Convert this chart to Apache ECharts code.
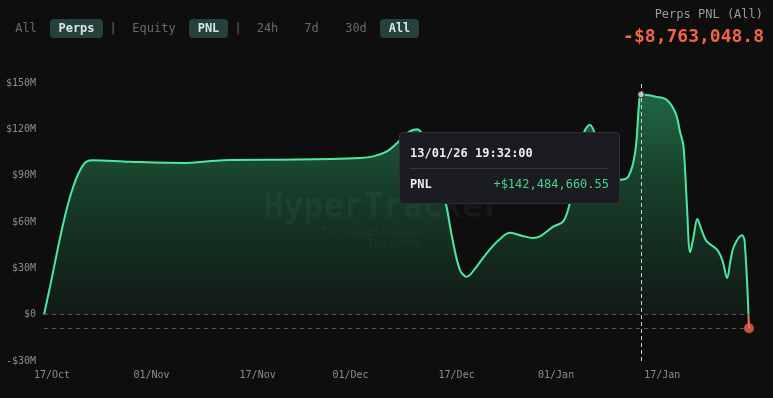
<!DOCTYPE html>
<html>
<head>
<meta charset="utf-8">
<script src="https://cdn.jsdelivr.net/npm/echarts@6/dist/echarts.min.js"></script>
<style>
html,body{margin:0;padding:0;background:#0e0e0e;}
#chart{width:773px;height:398px;}
</style>
</head>
<body>
<div id="chart"></div>
<script>
// ---- data (PNL in millions of USD, UTC timestamps) ----
const dates = [
  '2025-10-15 19:00','2025-10-16 17:00','2025-10-18 17:00','2025-10-20 05:00','2025-10-21 17:00',
  '2025-10-23 00:00','2025-10-28 18:00','2025-11-06 08:00','2025-11-11 19:00','2025-11-22 22:00',
  '2025-12-02 11:00','2025-12-04 10:00','2025-12-06 12:00','2025-12-08 00:00','2025-12-09 17:00',
  '2025-12-11 01:00','2025-12-12 10:00','2025-12-13 19:00','2025-12-15 07:00','2025-12-16 07:00',
  '2025-12-17 12:00','2025-12-18 13:00','2025-12-20 01:00','2025-12-21 14:00','2025-12-23 07:00',
  '2025-12-25 02:00','2025-12-26 22:00','2025-12-28 12:00','2025-12-29 14:00','2025-12-31 14:00',
  '2026-01-02 02:00','2026-01-03 02:00','2026-01-04 07:00','2026-01-05 05:00','2026-01-06 02:00',
  '2026-01-07 00:00','2026-01-08 02:00','2026-01-09 05:00','2026-01-10 17:00','2026-01-11 22:00',
  '2026-01-12 22:00','2026-01-13 12:00','2026-01-13 19:32','2026-01-16 05:00','2026-01-17 17:00',
  '2026-01-19 00:00','2026-01-19 17:00','2026-01-20 05:00','2026-01-20 17:00','2026-01-21 05:00',
  '2026-01-21 17:00','2026-01-22 07:00','2026-01-22 22:00','2026-01-23 17:00','2026-01-25 07:00',
  '2026-01-26 02:00','2026-01-26 19:00','2026-01-27 07:00','2026-01-27 19:00','2026-01-29 00:00',
  '2026-01-29 10:00','2026-01-30 02:00'
];
const pnlM = [
  0, 18.3, 59.4, 83, 97,
  100, 99, 98.2, 100, 100.4,
  101.5, 102.5, 105.8, 111, 118,
  120, 112, 92, 73.4, 50.7,
  29, 24.6, 31.3, 40, 48,
  53, 51, 49.7, 50.7, 57,
  60.4, 72.5, 100, 118, 123,
  115, 95, 88, 87.4, 89.6,
  105, 136, 142.48466055, 141, 139,
  130.6, 118, 109, 72, 40.4,
  50, 62, 55, 47.5, 42,
  35, 23.8, 35, 44, 51.4,
  48, -8.7630488
];
const xTickDates = ['2025-10-17','2025-11-01','2025-11-17','2025-12-01','2025-12-17','2026-01-01','2026-01-17'];
const yMinM = -30, yMaxM = 150, yStepM = 30;
const tooltipDate = '2026-01-13 19:32';
const headerTabs = ['All','Perps','|','Equity','PNL','|','24h','7d','30d','All'];
const headerActive = [false,true,false,false,true,false,false,false,false,true];
const headerTitle = 'Perps PNL (All)';
const headerValue = '-$8,763,048.8';
const watermark = ['HyperTracker','The Hyperliquid','Insights'];

// ---- helpers ----
const MON = ['Jan','Feb','Mar','Apr','May','Jun','Jul','Aug','Sep','Oct','Nov','Dec'];
function ts(s){
  const parts = s.split(' ');
  const d = parts[0].split('-').map(Number);
  const t = (parts[1] || '00:00').split(':').map(Number);
  return Date.UTC(d[0], d[1]-1, d[2], t[0], t[1]);
}
const pad = n => String(n).padStart(2,'0');
const seriesData = dates.map((d,i) => [ts(d), pnlM[i]*1e6]);
const lastPt = seriesData[seriesData.length-1];
const tipIndex = dates.indexOf(tooltipDate);
const MONO = '"DejaVu Sans Mono", "Liberation Mono", monospace';
const GREEN = '#46d390', RED = '#f0654a';
const H = 398;

function fmtMoney(v){
  const s = Math.abs(v).toLocaleString('en-US',{minimumFractionDigits:2, maximumFractionDigits:2});
  return (v < 0 ? '-' : '+') + '$' + s;
}

// header graphics
const tabX = [26, 76.5, 113, 154, 208.5, 238, 267.5, 311.5, 356, 399.5];
const tabW = [0, 53, 0, 0, 39, 0, 0, 0, 0, 39];
const graphics = [];
headerTabs.forEach((t,i) => {
  if (headerActive[i]) {
    graphics.push({type:'rect', shape:{x:tabX[i]-tabW[i]/2, y:19, width:tabW[i], height:19, r:4},
      style:{fill:'#26403c'}, silent:true});
  }
  graphics.push({type:'text', x:tabX[i], y:29, style:{text:t, align:'center', verticalAlign:'middle',
    font:(headerActive[i]?'bold ':'') + '12px ' + MONO, fill: headerActive[i] ? '#dde5e2' : '#696969'}, silent:true});
});
graphics.push({type:'text', x:763, y:15, style:{text:headerTitle, align:'right', verticalAlign:'middle',
  font:'12px ' + MONO, fill:'#9a9a9a'}});
graphics.push({type:'text', x:764, y:37, style:{text:headerValue, align:'right', verticalAlign:'middle',
  font:'bold 18px ' + MONO, fill:RED}});
// watermark
graphics.push({type:'text', x:383, y:208, z:0, style:{text:watermark[0], align:'center', verticalAlign:'middle',
  font:'bold 33px ' + MONO, fill:'rgba(130,220,170,0.06)'}, silent:true});
graphics.push({type:'text', x:420, y:232, z:0, style:{text:watermark[1], align:'right', verticalAlign:'middle',
  font:'11px ' + MONO, fill:'rgba(130,220,170,0.06)'}, silent:true});
graphics.push({type:'text', x:420, y:244, z:0, style:{text:watermark[2], align:'right', verticalAlign:'middle',
  font:'11px ' + MONO, fill:'rgba(130,220,170,0.06)'}, silent:true});

const chart = echarts.init(document.getElementById('chart'), null, {renderer:'canvas'});
chart.setOption({
  backgroundColor:'#0e0e0e',
  animation:false,
  graphic: graphics,
  grid:{left:44, right:24, top:83, bottom:37},
  xAxis:{
    type:'value',
    min: seriesData[0][0],
    max: lastPt[0],
    axisLine:{show:false}, axisTick:{show:false}, splitLine:{show:false},
    axisLabel:{
      customValues: xTickDates.map(d => ts(d)),
      hideOverlap:false,
      color:'#8c8c8c', fontFamily:MONO, fontSize:10, margin:9,
      formatter: v => { const d = new Date(v); return pad(d.getUTCDate()) + '/' + MON[d.getUTCMonth()]; }
    }
  },
  yAxis:{
    type:'value',
    min: yMinM*1e6, max: yMaxM*1e6, interval: yStepM*1e6,
    axisLine:{show:false}, axisTick:{show:false}, splitLine:{show:false},
    axisLabel:{
      color:'#8c8c8c', fontFamily:MONO, fontSize:10, margin:8,
      formatter: v => { const m = Math.round(v/1e6); if (m === 0) return '$0'; return (m<0?'-':'') + '$' + Math.abs(m) + 'M'; }
    }
  },
  tooltip:{
    trigger:'axis',
    triggerOn:'none',
    alwaysShowContent:true,
    transitionDuration:0,
    backgroundColor:'#1b1c21',
    borderColor:'#2d2f35',
    borderWidth:1,
    padding:[11,10,10,10],
    extraCssText:'width:221px;box-sizing:border-box;border-radius:4px;box-shadow:none;',
    position: () => [399, 132],
    axisPointer:{type:'line', label:{show:false}, lineStyle:{color:'#cfcfcf', type:[4,3], width:1}},
    formatter: params => {
      const p = params.filter(q => q.seriesIndex === 0)[0] || params[0];
      const d = new Date(p.value[0]);
      const ds = pad(d.getUTCDate()) + '/' + pad(d.getUTCMonth()+1) + '/' + String(d.getUTCFullYear()).slice(2) +
        ' ' + pad(d.getUTCHours()) + ':' + pad(d.getUTCMinutes()) + ':' + pad(d.getUTCSeconds());
      return '<div style="font-family:' + MONO.replace(/"/g,"'") + ';font-size:12px;">' +
        '<div style="color:#ececec;font-weight:bold;line-height:18px;">' + ds + '</div>' +
        '<div style="height:1px;background:#33353b;margin:6px 0 7px 0;"></div>' +
        '<div style="display:flex;justify-content:space-between;line-height:17px;">' +
        '<span style="color:#ececec;font-weight:bold;">PNL</span>' +
        '<span style="color:' + GREEN + ';">' + fmtMoney(p.value[1]) + '</span></div></div>';
    }
  },
  series:[
    {
      type:'line',
      data: seriesData,
      smooth:0.35,
      showSymbol:false,
      symbol:'circle',
      symbolSize:6,
      itemStyle:{color:'#b8c4bf', borderColor:'#222', borderWidth:1},
      lineStyle:{width:2, color:GREEN},
      areaStyle:{
        color: new echarts.graphic.LinearGradient(0,0,0,1,[
          {offset:0, color:'rgba(46,176,110,0.7)'},
          {offset:0.4, color:'rgba(46,176,110,0.38)'},
          {offset:1, color:'rgba(46,176,110,0.06)'}
        ])
      },
      markLine:{
        silent:true, symbol:'none',
        label:{show:false},
        lineStyle:{color:'#555', type:[4,4], width:1},
        data:[{yAxis:0},{yAxis:lastPt[1]}]
      },
      z:3
    },
    {
      type:'scatter',
      data:[lastPt],
      symbolSize:10,
      itemStyle:{color:RED},
      z:5,
      silent:true
    }
  ]
});
// colour the part of the line below zero red, using the axis scale for the split position
const y0 = chart.convertToPixel({yAxisIndex:0}, 0);
const f = Math.min(1, Math.max(0, y0 / H));
chart.setOption({series:[{lineStyle:{color: new echarts.graphic.LinearGradient(0,0,0,H,[
  {offset:0, color:GREEN},{offset:f, color:GREEN},{offset:f, color:RED},{offset:1, color:RED}
], true)}}]});
chart.dispatchAction({type:'showTip', seriesIndex:0, dataIndex:tipIndex});
</script>
</body>
</html>
